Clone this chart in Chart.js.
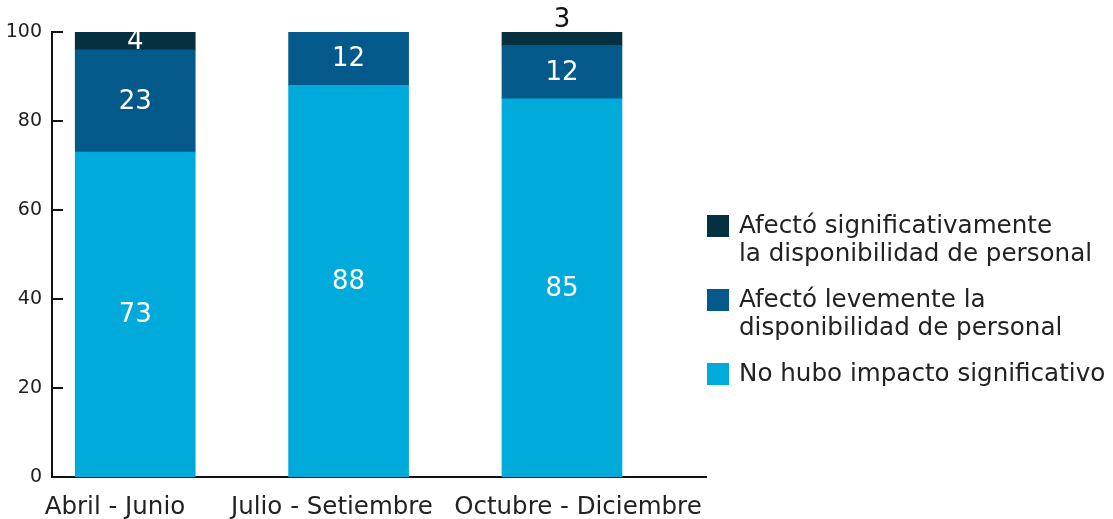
<!DOCTYPE html>
<html>
<head>
<meta charset="utf-8">
<script src="https://cdn.jsdelivr.net/npm/chart.js@4"></script>
<style>
  html, body { margin: 0; padding: 0; background: #fff; }
  #wrap { position: relative; width: 1113px; height: 519px; }
  #legend { position: absolute; left: 707px; top: 211px; font-family: "DejaVu Sans", sans-serif; font-size: 24.6px; color: #222; }
  .item { display: flex; align-items: flex-start; margin-bottom: 18px; line-height: 28px; }
  .box { width: 22px; height: 22px; margin-top: 4px; margin-right: 10px; flex: none; }
  .txt { white-space: pre-line; }
</style>
</head>
<body>
<div id="wrap">
  <canvas id="chart" width="1113" height="519"></canvas>
  <div id="legend"></div>
</div>
<script>
// categories and series (bottom to top of each bar)
var periods = ['Abril - Junio', 'Julio - Setiembre', 'Octubre - Diciembre'];
var noImpact = [73, 88, 85];
var slightImpact = [23, 12, 12];
var strongImpact = [4, 0, 3];
var yTicks = [0, 20, 40, 60, 80, 100];

var seriesNames = [
  'No hubo impacto significativo',
  'Afectó levemente la\ndisponibilidad de personal',
  'Afectó significativamente\nla disponibilidad de personal'
];
var seriesColors = ['#00abdb', '#02598a', '#04303f'];

// the category labels in the original sit a little off their bars
var labelNudge = [-0.095, -0.078, 0.075];

function toPoints(values) {
  return values.map(function (v, i) { return { x: i, y: v }; });
}

// draws the numbers on the segments
var valueLabels = {
  id: 'valueLabels',
  afterDatasetsDraw: function (chart) {
    var ctx = chart.ctx;
    var area = chart.chartArea;
    ctx.save();
    ctx.font = '26px "DejaVu Sans", sans-serif';
    ctx.textAlign = 'center';
    chart.data.datasets.forEach(function (ds, di) {
      var meta = chart.getDatasetMeta(di);
      meta.data.forEach(function (bar, i) {
        var v = ds.data[i].y;
        if (!v) return;
        var h = bar.base - bar.y;
        if (h < 15) {
          // too thin: put it on top in black
          ctx.fillStyle = '#111';
          ctx.textBaseline = 'bottom';
          ctx.fillText(v, bar.x, bar.y + 1);
        } else {
          ctx.save();
          ctx.beginPath();
          ctx.rect(area.left, area.top, area.right - area.left, area.bottom - area.top);
          ctx.clip();
          ctx.fillStyle = '#fff';
          ctx.textBaseline = 'middle';
          ctx.fillText(v, bar.x, (bar.y + bar.base) / 2 + 1);
          ctx.restore();
        }
      });
    });
    ctx.restore();
  }
};

// y tick marks point into the plot
var innerTicks = {
  id: 'innerTicks',
  afterDraw: function (chart) {
    var ctx = chart.ctx;
    var y = chart.scales.y;
    var left = chart.chartArea.left;
    ctx.save();
    ctx.strokeStyle = '#111';
    ctx.lineWidth = 2;
    yTicks.forEach(function (t) {
      var py = Math.round(y.getPixelForValue(t));
      ctx.beginPath();
      ctx.moveTo(left, py);
      ctx.lineTo(left + 11, py);
      ctx.stroke();
    });
    ctx.restore();
  }
};

var datasets = [noImpact, slightImpact, strongImpact].map(function (vals, k) {
  return {
    label: seriesNames[k],
    data: toPoints(vals),
    backgroundColor: seriesColors[k],
    barThickness: 120
  };
});

Chart.defaults.font.family = '"DejaVu Sans", sans-serif';
Chart.defaults.color = '#222';

new Chart(document.getElementById('chart'), {
  type: 'bar',
  data: { datasets: datasets },
  plugins: [valueLabels, innerTicks],
  options: {
    responsive: false,
    animation: false,
    layout: { padding: { left: 0, right: 407, top: 32, bottom: 0 } },
    plugins: { legend: { display: false }, tooltip: { enabled: false } },
    scales: {
      x: {
        type: 'linear',
        stacked: true,
        offset: false,
        min: -0.39,
        max: 2.675,
        grid: { display: false, offset: false },
        border: { display: true, color: '#111', width: 2 },
        afterBuildTicks: function (scale) {
          scale.ticks = periods.map(function (p, i) { return { value: i + labelNudge[i] }; });
        },
        afterFit: function (scale) { scale.height = 42; },
        ticks: {
          font: { size: 24.5 },
          padding: 8,
          maxRotation: 0,
          minRotation: 0,
          autoSkip: false,
          callback: function (v, idx) { return periods[idx]; }
        }
      },
      y: {
        stacked: true,
        min: 0,
        max: 100,
        afterBuildTicks: function (scale) {
          scale.ticks = yTicks.map(function (t) { return { value: t }; });
        },
        afterFit: function (scale) { scale.width = 52; },
        grid: { display: false, drawTicks: false },
        border: { display: true, color: '#111', width: 2 },
        ticks: { font: { size: 19 }, padding: 10 }
      }
    }
  }
});

// legend, top entry is the top segment
var legend = document.getElementById('legend');
for (var k = seriesNames.length - 1; k >= 0; k--) {
  var item = document.createElement('div');
  item.className = 'item';
  item.innerHTML = '<div class="box" style="background:' + seriesColors[k] + '"></div><div class="txt"></div>';
  item.querySelector('.txt').textContent = seriesNames[k];
  legend.appendChild(item);
}
</script>
</body>
</html>
